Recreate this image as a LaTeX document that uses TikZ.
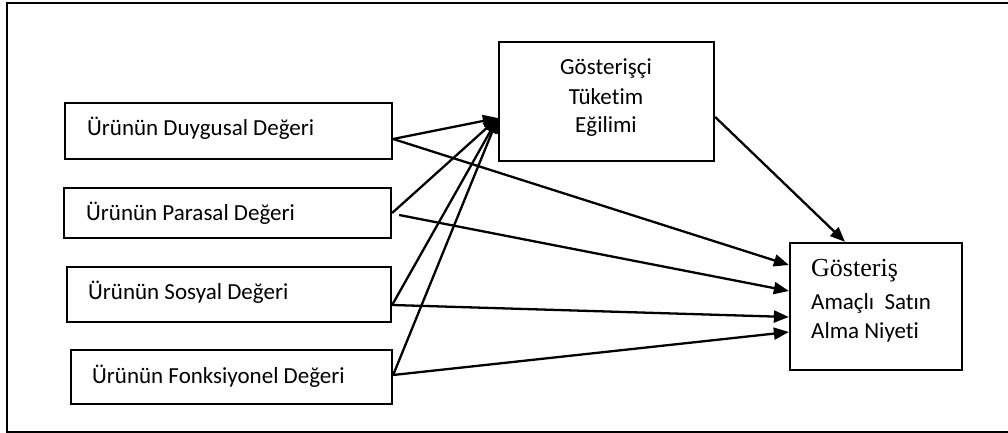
\documentclass[tikz,border=0pt]{standalone}
\usepackage{fontspec}
\setmainfont{Carlito}[Ligatures=NoCommon]
\newfontfamily\timesf{Liberation Serif}
\usetikzlibrary{arrows.meta}
\tikzset{
  box/.style={draw, line width=2.3pt, minimum width=#1},
  lbl/.style={inner sep=0pt, anchor=base west, font=\fontsize{23}{28}\selectfont},
  clbl/.style={inner sep=0pt, anchor=base, font=\fontsize{23}{28}\selectfont},
  arr/.style={line width=2.3pt, -{Triangle[length=15pt, width=12pt]}}
}
\begin{document}
\begin{tikzpicture}[x=1pt,y=1pt]
\useasboundingbox (0,0) rectangle (1008,433);
% outer frame
\draw[line width=1.6pt] (1010,430) -- (7,430) -- (7,1) -- (1010,1);
% boxes
\node[box=327pt, minimum height=56pt] (d1) at (228.5,302) {};
\node[box=327pt, minimum height=50pt] (d2) at (227.5,220) {};
\node[box=324pt, minimum height=55pt] (d3) at (229,138.5) {};
\node[box=321pt, minimum height=54pt] (d4) at (231.5,56) {};
\node[box=215pt, minimum height=119pt] (m) at (606.5,331.5) {};
\node[box=172pt, minimum height=127pt] (r) at (876,126.5) {};
% texts
\node[lbl] (t1) at (87,297) {Ürünün Duygusal Değeri};
\node[lbl] (t2) at (86,212) {Ürünün Parasal Değeri};
\node[lbl] (t3) at (88,133) {Ürünün Sosyal Değeri};
\node[lbl] (t4) at (92,49) {Ürünün Fonksiyonel Değeri};
\node[clbl] (m1) at (606,358) {Gösterişçi};
\node[clbl] (m2) at (606,328) {Tüketim};
\node[clbl] (m3) at (606,300) {Eğilimi};
\node[inner sep=0pt, anchor=base west, font=\timesf\fontsize{26}{30}\selectfont] (r1) at (811,156) {Gösteriş};
\node[lbl] (r2) at (811,123) {Amaçlı\ \ Satın};
\node[lbl] (r3) at (811,94) {Alma Niyeti};
% connectors to middle box
\draw[arr] ([yshift=-8pt]d1.east) -- ([yshift=-16.5pt]m.west);
\draw[arr] (d2.east) -- ([yshift=-16.5pt]m.west);
\draw[arr] ([yshift=-10.5pt]d3.east) -- ([yshift=-16.5pt]m.west);
\draw[arr] ([yshift=2pt]d4.east) -- ([yshift=-16.5pt]m.west);
% connectors to right box
\draw[arr] ([yshift=-8pt]d1.east) -- ([yshift=41.5pt]r.west);
\draw[arr] ([xshift=7pt,yshift=-2pt]d2.east) -- ([yshift=15.5pt]r.west);
\draw[arr] ([yshift=-10.5pt]d3.east) -- ([yshift=-10.5pt]r.west);
\draw[arr] ([yshift=2pt]d4.east) -- ([yshift=-25.5pt]r.west);
\draw[arr] ([yshift=-15.5pt]m.east) -- ([xshift=-31pt]r.north);
\end{tikzpicture}
\end{document}
